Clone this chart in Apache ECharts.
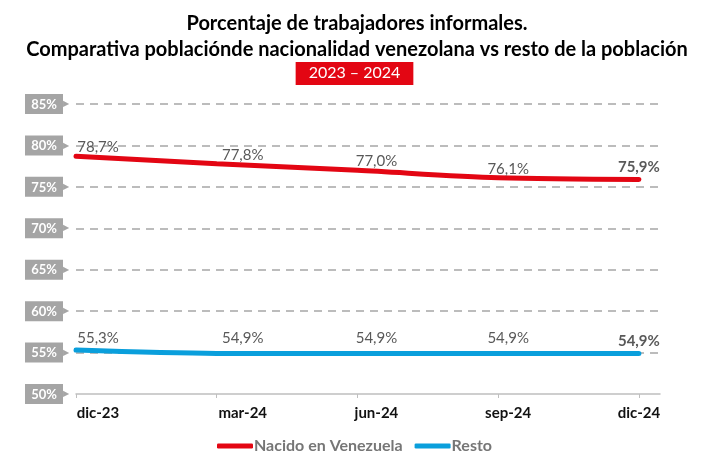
<!DOCTYPE html>
<html>
<head>
<meta charset="utf-8">
<script src="https://cdn.jsdelivr.net/npm/echarts@6/dist/echarts.min.js"></script>
<style>
html,body{margin:0;padding:0;background:#fff;}
#chart{width:709px;height:475px;}
</style>
</head>
<body>
<div id="chart"></div>
<script>
const categories = ['dic-23', 'mar-24', 'jun-24', 'sep-24', 'dic-24'];
const venezuela = [78.7, 77.8, 77.0, 76.1, 75.9];
const resto = [55.3, 54.9, 54.9, 54.9, 54.9];
const yTicks = [50, 55, 60, 65, 70, 75, 80, 85];
const seriesNames = ['Nacido en Venezuela', 'Resto'];

const FONT = 'Lato';
const RED = '#e30613';
const BLUE = '#0a9fdc';
// label placement tweaks (style only), as in the reference layout
const LABEL_SHIFT = [22, 26, 19, 10, 0];
const RED_LIFT = [0, 0, 0, 0, 3];
const BLUE_LIFT = [0, 3, 3, 3, 0];

function fmt(v) { return v.toFixed(1).replace('.', ',') + '%'; }

function buildData(values, lift) {
  return values.map((v, i) => {
    const item = { value: [i, v], label: { offset: [LABEL_SHIFT[i], -lift[i]] } };
    if (i === values.length - 1) {
      item.label.fontWeight = 'bold';
    }
    return item;
  });
}

const xRich = {};
categories.forEach((c, i) => {
  xRich['c' + i] = { fontFamily: FONT, fontWeight: 'bold', fontSize: 15, color: '#111', padding: [0, 0, 0, LABEL_SHIFT[i] * 2] };
});

const chart = echarts.init(document.getElementById('chart'));
chart.setOption({
  animation: false,
  title: [
    {
      text: 'Porcentaje de trabajadores informales.\nComparativa poblaciónde nacionalidad venezolana vs resto de la población',
      left: 352, top: 6,
      textAlign: 'center',
      textStyle: { fontFamily: FONT, fontWeight: 'bold', fontSize: 20, color: '#000', lineHeight: 26 }
    },
    {
      text: '2023 – 2024',
      left: 'center', top: 62,
      backgroundColor: RED,
      padding: [2, 13, 3, 13],
      textStyle: { fontFamily: FONT, fontWeight: 'normal', fontSize: 16, color: '#fff', lineHeight: 18 }
    }
  ],
  legend: {
    bottom: 16, left: 'center',
    itemWidth: 36, itemHeight: 5, itemGap: 12,
    icon: 'roundRect',
    textStyle: { fontFamily: FONT, fontSize: 16, color: '#767676', fontWeight: 'bold', padding: [0, 0, 0, -4] },
    data: seriesNames
  },
  grid: { left: 76, right: 49, top: 104, bottom: 81, containLabel: false },
  xAxis: {
    type: 'value',
    min: 0, max: 4.15, interval: 1,
    splitLine: { show: false },
    axisLine: { show: true, lineStyle: { color: '#bfbfbf', width: 1.5 } },
    axisTick: { show: true, length: 4, lineStyle: { color: '#bfbfbf' } },
    axisLabel: {
      margin: 12,
      showMaxLabel: false,
      formatter: function (v) { return Number.isInteger(v) && categories[v] !== undefined ? '{c' + v + '|' + categories[v] + '}' : ''; },
      rich: xRich
    }
  },
  yAxis: {
    type: 'value',
    min: yTicks[0], max: yTicks[yTicks.length - 1], interval: 5,
    axisLine: { show: false },
    axisTick: { show: false },
    splitLine: { show: true, showMinLine: false, lineStyle: { color: '#a6a6a6', type: [8, 6], width: 1.5 } },
    axisLabel: {
      margin: 7,
      formatter: function (v) { return '{b|' + v + '%}{t|▶}'; },
      rich: {
        b: { backgroundColor: '#a5a5a5', color: '#fff', fontFamily: FONT, fontWeight: 'bold', fontSize: 13, padding: [4, 6, 3, 6], width: 26, align: 'center' },
        t: { color: '#a5a5a5', fontSize: 8 }
      }
    }
  },
  series: [
    {
      name: seriesNames[0], type: 'line', smooth: 0.3,
      data: buildData(venezuela, RED_LIFT),
      showSymbol: true, symbol: 'circle', symbolSize: 1,
      lineStyle: { color: RED, width: 5, cap: 'round' },
      itemStyle: { color: RED },
      label: { show: true, position: 'top', distance: 1, fontFamily: FONT, fontSize: 15, color: '#595959', formatter: p => fmt(p.value[1]) }
    },
    {
      name: seriesNames[1], type: 'line', smooth: 0.3,
      data: buildData(resto, BLUE_LIFT),
      showSymbol: true, symbol: 'circle', symbolSize: 1,
      lineStyle: { color: BLUE, width: 5, cap: 'round' },
      itemStyle: { color: BLUE },
      label: { show: true, position: 'top', distance: 4, fontFamily: FONT, fontSize: 15, color: '#595959', formatter: p => fmt(p.value[1]) }
    }
  ]
});
</script>
</body>
</html>
